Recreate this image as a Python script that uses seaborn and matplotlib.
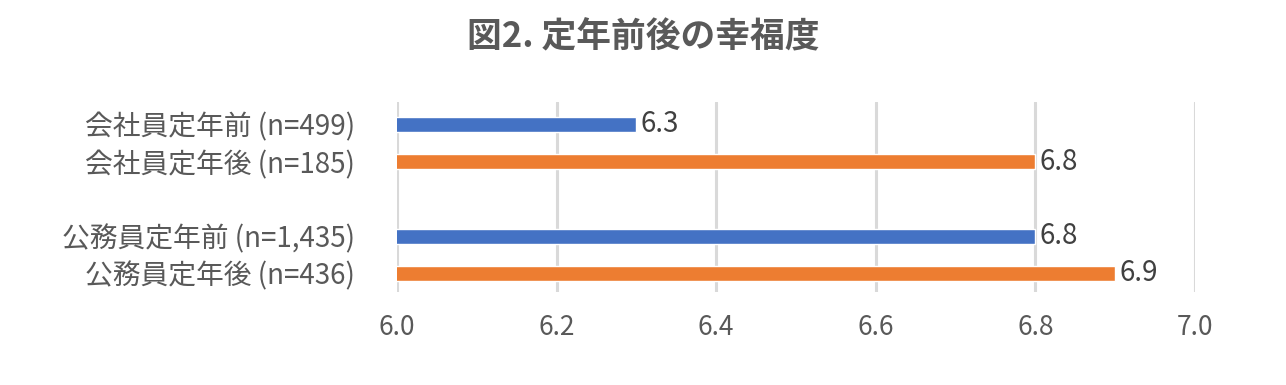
import pandas as pd
import matplotlib
matplotlib.use("Agg")
import matplotlib.pyplot as plt
import seaborn as sns

# Data
labels = ["会社員定年前 (n=499)", "会社員定年後 (n=185)",
          "公務員定年前 (n=1,435)", "公務員定年後 (n=436)"]
values = [6.3, 6.8, 6.8, 6.9]
phase = ["前", "後", "前", "後"]
order = [labels[0], labels[1], "", labels[2], labels[3]]
xticks = [6.0, 6.2, 6.4, 6.6, 6.8, 7.0]

df = pd.DataFrame({"label": labels, "value": values, "phase": phase})

sns.set_style("white")
plt.rcParams["font.family"] = ["Noto Sans CJK JP", "DejaVu Sans"]
text_color = "#595959"

fig = plt.figure(figsize=(12.86, 3.85), dpi=100)
ax = fig.add_axes([0.3087, 0.2416, 0.6205, 0.4934])

# empty "" level in order leaves the gap between the two groups
sns.barplot(data=df, x="value", y="label", hue="phase", order=order,
            palette={"前": "#4472C4", "後": "#ED7D31"}, dodge=False,
            saturation=1, width=0.4, orient="h", legend=False, ax=ax)

ax.set_xlim(6.0, 7.0)
ax.set_ylim(4.5, -0.6)
ax.set_xticks(xticks)
ax.set_xticklabels([f"{t:.1f}" for t in xticks])
ax.grid(axis="x", color="#D9D9D9", linewidth=2.2)
ax.set_axisbelow(True)
for s in ax.spines.values():
    s.set_visible(False)
ax.tick_params(axis="x", length=0, labelsize=19, colors=text_color, pad=16)
ax.tick_params(axis="y", length=0, labelsize=20, colors=text_color, pad=30)
ax.set_xlabel("")
ax.set_ylabel("")

# value labels
for c in ax.containers:
    ax.bar_label(c, fmt="%.1f", padding=3, fontsize=20, color="#404040")

fig.suptitle("図2. 定年前後の幸福度", x=0.5, y=0.95, fontsize=25,
             fontweight="bold", color=text_color)

fig.savefig("out.png", dpi=100)
